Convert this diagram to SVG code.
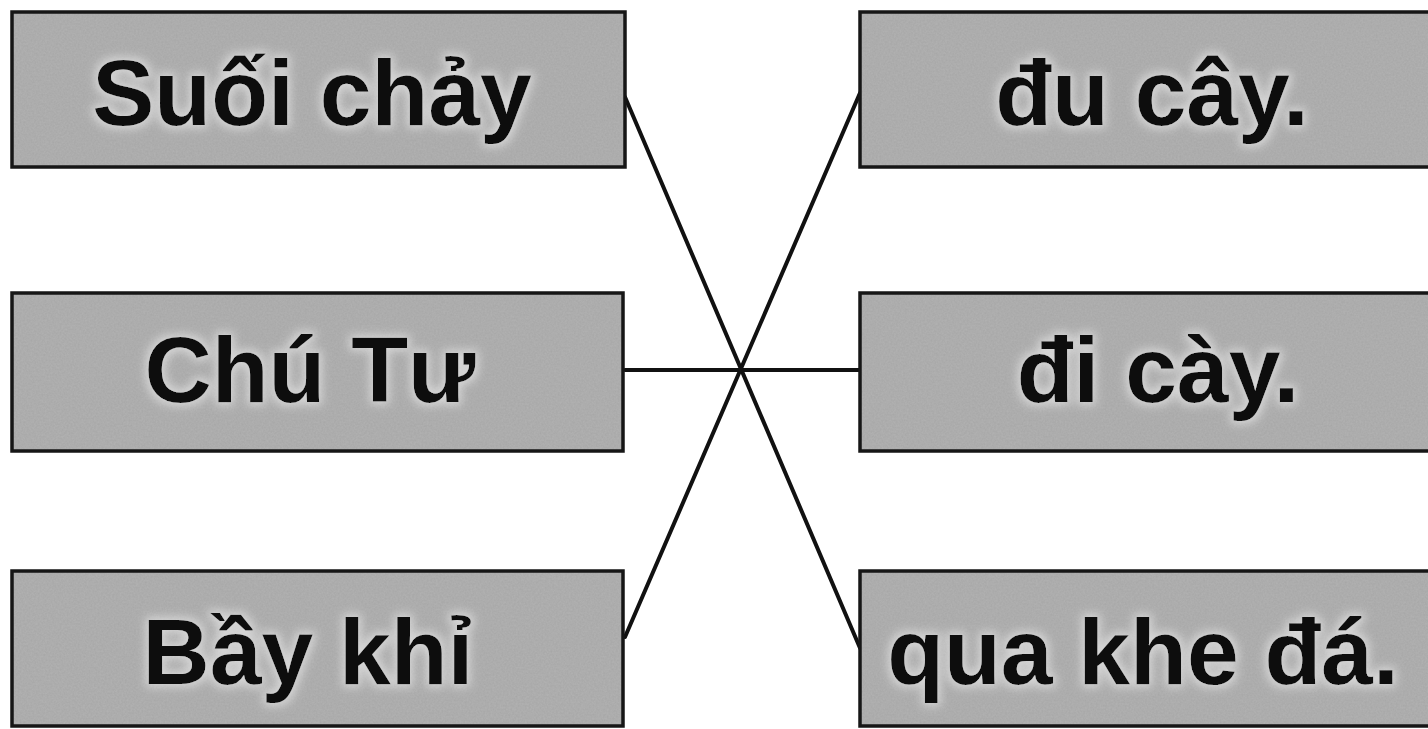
<svg xmlns="http://www.w3.org/2000/svg" width="1428" height="729" viewBox="0 0 1428 729">
<defs>
<filter id="grain" x="0" y="0" width="100%" height="100%">
<feTurbulence type="fractalNoise" baseFrequency="0.55" numOctaves="2" seed="3" result="n"/>
<feColorMatrix in="n" type="matrix" values="0 0 0 0 0.55  0 0 0 0 0.55  0 0 0 0 0.55  0 0 0 0.4 0" result="g"/>
<feComposite in="g" in2="SourceGraphic" operator="atop"/>
</filter>
<pattern id="tex" patternUnits="userSpaceOnUse" x="0" y="0" width="300" height="300">
<rect width="300" height="300" fill="#a6a6a6" filter="url(#grain)"/>
</pattern>
<filter id="halo" x="-10%" y="-20%" width="120%" height="140%">
<feMorphology in="SourceAlpha" operator="dilate" radius="3" result="d"/>
<feGaussianBlur in="d" stdDeviation="5" result="b"/>
<feFlood flood-color="#f0f0f0" flood-opacity="0.6"/>
<feComposite in2="b" operator="in" result="glow"/>
<feMerge><feMergeNode in="glow"/><feMergeNode in="SourceGraphic"/></feMerge>
</filter>
</defs>
<style>
.box{fill:url(#tex);stroke:#161616;stroke-width:3.5}
.lbl{font-family:"Liberation Sans",Arial,sans-serif;font-weight:bold;font-size:93px;fill:#111;text-anchor:middle}
.conn line{stroke:#111;stroke-width:4;stroke-linecap:round}
</style>
<rect width="1428" height="729" fill="#ffffff"/>
<g class="conn" id="connectors">
<line x1="625" y1="97" x2="860" y2="648"/>
<line x1="625" y1="637" x2="860" y2="93"/>
<line x1="625" y1="370" x2="860" y2="370"/>
</g>
<g id="n-suoi-chay">
<rect class="box" x="12" y="12" width="613" height="155"/>
<text class="lbl" x="312" y="125" filter="url(#halo)">Suối chảy</text>
</g>
<g id="n-chu-tu">
<rect class="box" x="12" y="293" width="611" height="158"/>
<text class="lbl" x="310" y="402" filter="url(#halo)">Chú Tư</text>
</g>
<g id="n-bay-khi">
<rect class="box" x="12" y="571" width="611" height="155"/>
<text class="lbl" x="308" y="684" filter="url(#halo)">Bầy khỉ</text>
</g>
<g id="n-du-cay">
<rect class="box" x="860" y="12" width="575" height="155"/>
<text class="lbl" x="1152" y="125" filter="url(#halo)">đu cây.</text>
</g>
<g id="n-di-cay">
<rect class="box" x="860" y="293" width="575" height="158"/>
<text class="lbl" x="1158" y="402" filter="url(#halo)">đi cày.</text>
</g>
<g id="n-qua-khe-da">
<rect class="box" x="860" y="571" width="575" height="155"/>
<text class="lbl" x="1143" y="684" filter="url(#halo)">qua khe đá.</text>
</g>
</svg>
